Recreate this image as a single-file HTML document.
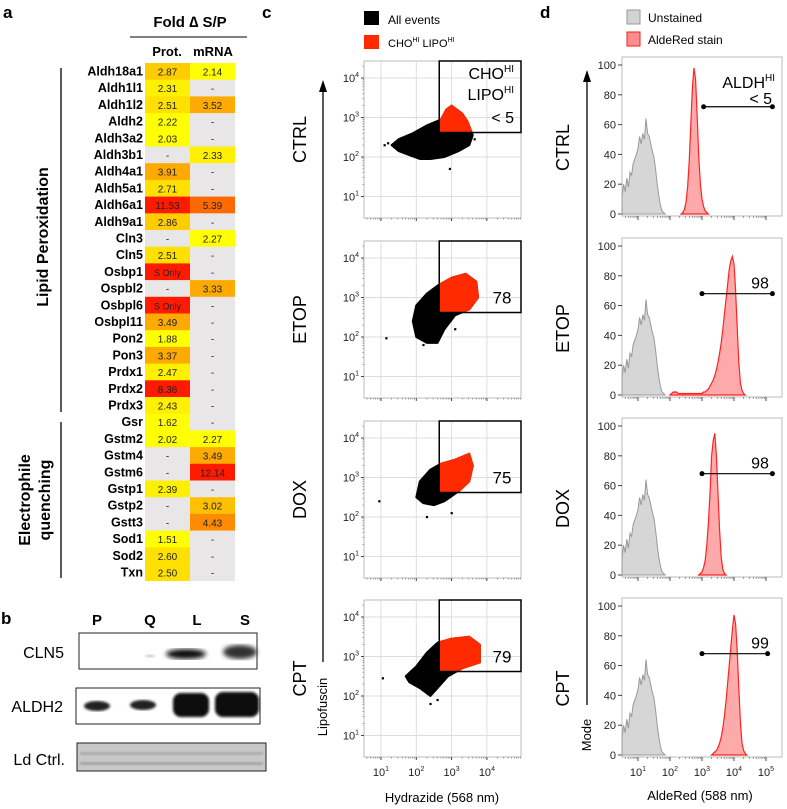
<!DOCTYPE html>
<html><head><meta charset="utf-8"><style>
body{margin:0;background:#fff}
svg{display:block;font-family:"Liberation Sans",Arial,sans-serif}
</style></head><body>
<svg id="fig" width="787" height="809" viewBox="0 0 787 809" xmlns="http://www.w3.org/2000/svg">
<defs>
<filter id="blur1"><feGaussianBlur stdDeviation="2.5"/></filter>
<filter id="blur2"><feGaussianBlur stdDeviation="1.2"/></filter>
</defs>
<text x="3" y="18" font-size="17" font-weight="bold">a</text>
<text x="1" y="624" font-size="17" font-weight="bold">b</text>
<text x="262" y="18" font-size="17" font-weight="bold">c</text>
<text x="540" y="18" font-size="17" font-weight="bold">d</text>

<g>
<text x="190" y="27" font-size="15" font-weight="bold" text-anchor="middle">Fold ∆ S/P</text>
<line x1="130" y1="37" x2="247" y2="37" stroke="#000" stroke-width="1"/>
<text x="167" y="56" font-size="13" font-weight="bold" text-anchor="middle">Prot.</text>
<text x="213" y="56" font-size="13" font-weight="bold" text-anchor="middle">mRNA</text>
</g>
<g id="table"></g>
<line x1="61" y1="68" x2="61" y2="412" stroke="#000" stroke-width="1.3"/>
<line x1="61" y1="422" x2="61" y2="578" stroke="#000" stroke-width="1.3"/>
<text transform="translate(48,237) rotate(-90)" font-size="16" font-weight="bold" text-anchor="middle">Lipid Peroxidation</text>
<text transform="translate(30,500) rotate(-90)" font-size="16" font-weight="bold" text-anchor="middle"><tspan x="0" dy="0">Electrophile</tspan><tspan x="0" dy="20">quenching</tspan></text>

<g>
<text x="97" y="625" font-size="15" font-weight="bold" text-anchor="middle">P</text>
<text x="150" y="625" font-size="15" font-weight="bold" text-anchor="middle">Q</text>
<text x="197" y="625" font-size="15" font-weight="bold" text-anchor="middle">L</text>
<text x="245" y="625" font-size="15" font-weight="bold" text-anchor="middle">S</text>
<text x="64" y="658" font-size="16" text-anchor="end">CLN5</text>
<text x="63" y="712" font-size="16" text-anchor="end">ALDH2</text>
<text x="65" y="765" font-size="16" text-anchor="end">Ld Ctrl.</text>
<rect x="79" y="633" width="178" height="36" fill="#fff" stroke="#222"/>
<ellipse cx="186" cy="654" rx="20" ry="5" fill="#111" filter="url(#blur1)"/>
<ellipse cx="240" cy="652" rx="17" ry="7" fill="#333" filter="url(#blur1)"/>
<ellipse cx="150" cy="656" rx="5" ry="1.5" fill="#ccc" filter="url(#blur2)"/>
<rect x="76" y="688" width="184" height="36" fill="#fff" stroke="#222"/>
<ellipse cx="97" cy="706" rx="13" ry="5" fill="#222" filter="url(#blur2)"/>
<ellipse cx="143" cy="705" rx="13" ry="5" fill="#222" filter="url(#blur2)"/>
<rect x="173" y="693" width="36" height="24" rx="8" fill="#080808" filter="url(#blur2)"/>
<rect x="215" y="692" width="44" height="25" rx="8" fill="#080808" filter="url(#blur2)"/>
<rect x="77" y="743" width="189" height="28" fill="#c8c8c8" stroke="#222"/>
<rect x="80" y="752" width="183" height="3" fill="#a8a8a8" filter="url(#blur2)"/>
<rect x="80" y="762" width="183" height="3" fill="#a0a0a0" filter="url(#blur2)"/>
</g>

<rect x="364" y="11" width="15" height="14" fill="#000"/>
<text x="388" y="24" font-size="12">All events</text>
<rect x="364" y="35" width="15" height="14" fill="#ff2a00"/>
<text x="388" y="47" font-size="11">CHO<tspan font-size="7" dy="-5">HI</tspan><tspan dy="5"> LIPO</tspan><tspan font-size="7" dy="-5">HI</tspan></text>
<line x1="323" y1="88" x2="323" y2="662" stroke="#000" stroke-width="1.3"/>
<polygon points="323,80 319,92 327,92" fill="#000"/>
<text transform="translate(327,707) rotate(-90)" font-size="13" text-anchor="middle">Lipofuscin</text>
<text x="442" y="802" font-size="13" text-anchor="middle">Hydrazide (568 nm)</text>
<g id="scatter"></g>

<rect x="627" y="10" width="13" height="14" fill="#d3d3d3" stroke="#999"/>
<text x="648" y="22" font-size="12">Unstained</text>
<rect x="627" y="32" width="13" height="14" fill="#ff8c8c" stroke="#e22"/>
<text x="648" y="44" font-size="12">AldeRed stain</text>
<line x1="587" y1="80" x2="587" y2="705" stroke="#000" stroke-width="1.3"/>
<polygon points="587,70 583,82 591,82" fill="#000"/>
<text transform="translate(591,735) rotate(-90)" font-size="13" text-anchor="middle">Mode</text>
<text x="700" y="800" font-size="13" text-anchor="middle">AldeRed (588 nm)</text>
<g id="hist"></g>
</svg>
<script>
const genes=["Aldh18a1","Aldh1l1","Aldh1l2","Aldh2","Aldh3a2","Aldh3b1","Aldh4a1","Aldh5a1","Aldh6a1","Aldh9a1","Cln3","Cln5","Osbp1","Ospbl2","Osbpl6","Osbpl11","Pon2","Pon3","Prdx1","Prdx2","Prdx3","Gsr","Gstm2","Gstm4","Gstm6","Gstp1","Gstp2","Gstt3","Sod1","Sod2","Txn"];
const protVals=["2.87","2.31","2.51","2.22","2.03","-","3.91","2.71","11.53","2.86","-","2.51","S Only","-","S Only","3.49","1.88","3.37","2.47","8.36","2.43","1.62","2.02","-","-","2.39","-","-","1.51","2.60","2.50"];
const mrnaVals=["2.14","-","3.52","-","-","2.33","-","-","5.39","-","2.27","-","-","3.33","-","-","-","-","-","-","-","-","2.27","3.49","12.14","-","3.02","4.43","-","-","-"];
const sampleNames=["CTRL","ETOP","DOX","CPT"];
const gatePct=["< 5","78","75","79"];
const ctrlBlobX=[1.3,1.5,1.9,2.3,2.7,2.85,3.0,3.3,3.45,3.6,3.5,3.2,2.8,2.4,2.1,1.8,1.5];
const ctrlBlobY=[2.3,2.45,2.6,2.8,2.95,3.2,3.3,3.1,2.9,2.55,2.3,2.15,2.0,1.95,1.95,2.05,2.15];
const etopBlobX=[2.0,1.9,2.0,2.3,2.6,3.0,3.4,3.7,3.75,3.5,3.1,2.8,2.6,2.3];
const etopBlobY=[2.0,2.4,2.8,3.1,3.3,3.5,3.6,3.4,3.0,2.7,2.55,2.2,1.85,1.85];
const doxBlobX=[2.0,2.1,2.4,2.7,3.1,3.5,3.6,3.5,3.2,2.8,2.5,2.2];
const doxBlobY=[2.5,2.9,3.2,3.35,3.45,3.6,3.3,2.9,2.65,2.4,2.3,2.35];
const cptBlobX=[1.7,2.0,2.3,2.6,3.0,3.5,3.8,3.8,3.3,2.9,2.6,2.4,2.1,1.8];
const cptBlobY=[2.5,2.75,3.1,3.35,3.45,3.5,3.3,2.85,2.7,2.5,2.2,2.0,2.2,2.35];
const outX=[[1.1,1.2,2.95,3.65],[1.15,2.2,3.1],[0.95,2.3,3.0],[1.05,2.4,2.6]];
const outY=[[2.3,2.35,1.7,2.45],[1.97,1.8,2.2],[2.4,2.0,2.1],[2.45,1.8,1.9]];
const unstained=[12,20,15,24,18,28,26,34,37,40,44,52,47,54,50,64,54,52,47,42,38,30,20,12,6,2,1,0];
const unstainedStart=0.5;
const redStart=[2.35,2.0,2.9,3.3];
const ctrlRed=[0,1,3,8,18,35,60,85,98,90,65,38,20,10,5,2,1,0];
const etopRed=[0,1,2,2,2,1,1,1,1,1,1,1,1,1,1,1,1,1,1,1,1,2,2,3,4,6,8,10,13,17,22,28,35,44,54,64,74,84,90,93,88,70,45,22,8,3,1,0];
const doxRed=[0,1,2,5,10,20,35,55,80,90,95,80,55,30,12,4,1,0];
const cptRed=[0,1,2,3,5,8,12,18,26,36,48,60,72,84,94,88,70,45,22,8,3,1,0];
const histGateLabel=["< 5","98","98","99"];
const histGateFrom=[3.05,3.0,3.0,3.0];
const histGateTo=[5.2,5.2,5.2,5.05];
const histGateLevel=[72,68,68,68];
const yTicks=[0,20,40,60,80,100];
const decades=[1,2,3,4];
const histDecades=[1,2,3,4,5];
</script>
<script>
const NS="http://www.w3.org/2000/svg";
function mk(tag,attrs,parent){const e=document.createElementNS(NS,tag);for(const k in attrs)e.setAttribute(k,attrs[k]);parent.appendChild(e);return e;}
function colorFor(v){
  if(v==="-")return "#e8e6e6";
  if(v==="S Only")return "#ff1a00";
  const n=parseFloat(v);
  if(n>=8)return "#ff1a00";if(n>=5)return "#ff6a00";if(n>=4)return "#ff8c00";
  if(n>=3.3)return "#ffaa00";if(n>=3.0)return "#ffc000";if(n>=2.8)return "#ffcc00";
  if(n>=2.5)return "#ffe000";if(n>=2.3)return "#fff000";return "#ffff00";}
const tbl=document.getElementById('table');
const rowH=16.7,top0=63;
genes.forEach((g,i)=>{
  const y=top0+i*rowH;
  const t=mk('text',{x:143,y:y+12.5,'font-size':12.5,'font-weight':'bold','text-anchor':'end'},tbl);t.textContent=g;
  
  
  [[protVals[i],145],[mrnaVals[i],190]].forEach(([v,x])=>{
    const r=mk('rect',{x:x,y:y,width:45,height:rowH+0.3,fill:colorFor(v)},tbl);
    
    
    const tx=mk('text',{x:x+22.5,y:y+12.5,'font-size':v==="S Only"?9:10,'text-anchor':'middle',fill:'#222'},tbl);tx.textContent=v;
    
    
  });
});
const sc=document.getElementById('scatter');
const t4=[78,258,438,617];
const xs=l=>381+(l-1)*35.3;
const ys=(l,i)=>t4[i]+(4-l)*39.5;
const blobsX=[ctrlBlobX,etopBlobX,doxBlobX,cptBlobX],blobsY=[ctrlBlobY,etopBlobY,doxBlobY,cptBlobY];
for(let i=0;i<4;i++){
  const g=mk('g',{},sc);
  
  
  const fy=t4[i]-17,fh=157,fx=364,fw=157;
  mk('rect',{x:fx,y:fy,width:fw,height:fh,fill:'#fff',stroke:'#bbb'},g);
  decades.forEach(d=>{
    mk('line',{x1:xs(d),x2:xs(d),y1:fy,y2:fy+fh,stroke:'#ddd'},g);
    mk('line',{x1:fx,x2:fx+fw,y1:ys(d,i),y2:ys(d,i),stroke:'#ddd'},g);
    mk('line',{x1:fx-3,x2:fx,y1:ys(d,i),y2:ys(d,i),stroke:'#444'},g);
    mk('line',{x1:xs(d),x2:xs(d),y1:fy+fh,y2:fy+fh+3,stroke:'#444'},g);
    for(let m=2;m<10;m++){const o=Math.log10(m);
      if(ys(d+o,i)>fy)mk('line',{x1:fx-1.5,x2:fx,y1:ys(d+o,i),y2:ys(d+o,i),stroke:'#666','stroke-width':0.6},g);
      if(xs(d+o)<fx+fw)mk('line',{x1:xs(d+o),x2:xs(d+o),y1:fy+fh,y2:fy+fh+1.5,stroke:'#666','stroke-width':0.6},g);
      const o0=d-1+o; if(d===1&&xs(o0)>fx)mk('line',{x1:xs(o0),x2:xs(o0),y1:fy+fh,y2:fy+fh+1.5,stroke:'#666','stroke-width':0.6},g);}
    const lb=mk('text',{x:fx-5,y:ys(d,i)+4,'font-size':11,'text-anchor':'end',fill:'#222'},g);
    lb.innerHTML='10<tspan font-size="7" dy="-5">'+d+'</tspan>';
    
    
  });
  if(i===3)decades.forEach(d=>{const lb=mk('text',{x:xs(d),y:776,'font-size':11,'text-anchor':'middle',fill:'#222'},g);
    lb.innerHTML='10<tspan font-size="7" dy="-5">'+d+'</tspan>';
    
    });
  const pts=blobsX[i].map((x,k)=>xs(x)+','+ys(blobsY[i][k],i)).join(' ');
  const gx=xs(2.65),gy=ys(2.62,i);
  const cp=mk('clipPath',{id:'gate'+i},g);mk('rect',{x:gx,y:fy,width:fx+fw-gx,height:gy-fy},cp);
  const bl=mk('polygon',{points:pts,fill:'#000',stroke:'#000','stroke-width':2,'stroke-linejoin':'round'},g);
  
  
  const rd=mk('polygon',{points:pts,fill:'#ff2a00',stroke:'#ff2a00','stroke-width':2,'clip-path':'url(#gate'+i+')'},g);
  
  
  outX[i].forEach((x,k)=>{const c=mk('rect',{x:xs(x)-1,y:ys(outY[i][k],i)-1,width:2.2,height:2.2,fill:'#000'},g);
    
    });
  const gate=mk('rect',{x:gx,y:fy,width:fx+fw-gx,height:gy-fy,fill:'none',stroke:'#000','stroke-width':1.5},g);
  
  
  if(i===0){
    const a=mk('text',{x:514,y:79,'font-size':16,'text-anchor':'end'},g);a.innerHTML='CHO<tspan font-size="10" dy="-7">HI</tspan>';
    const b=mk('text',{x:514,y:100,'font-size':16,'text-anchor':'end'},g);b.innerHTML='LIPO<tspan font-size="10" dy="-7">HI</tspan>';
    const c=mk('text',{x:514,y:123,'font-size':16,'text-anchor':'end'},g);c.textContent=gatePct[i];
    
    
  } else {
    const c=mk('text',{x:502,y:ys(3,i)+6,'font-size':17,'text-anchor':'middle'},g);c.textContent=gatePct[i];
    
    
  }
  const sl=mk('text',{transform:'translate('+306+','+(ys(3,i)+22)+') rotate(-90)','font-size':18,'text-anchor':'middle'},g);sl.textContent=sampleNames[i];
  
  
}
const hs=document.getElementById('hist');
const zero=[214,395,575,755];
const xh=l=>638+(l-1)*32;
const yh=(v,i)=>zero[i]-v*1.49;
const reds=[ctrlRed,etopRed,doxRed,cptRed];
function areaPath(start,vals,i){
  let d='M'+xh(start)+','+zero[i];
  vals.forEach((v,k)=>{d+=' L'+xh(start+k*0.05).toFixed(1)+','+yh(v,i).toFixed(1);});
  d+=' L'+xh(start+(vals.length-1)*0.05).toFixed(1)+','+zero[i]+' Z';return d;}
for(let i=0;i<4;i++){
  const g=mk('g',{},hs);
  
  
  const fx=622,fw=160,fy=yh(100,i)-8,fh=zero[i]+2-fy;
  mk('rect',{x:fx,y:fy,width:fw,height:fh,fill:'#fff',stroke:'#bbb'},g);
  yTicks.forEach(t=>{mk('line',{x1:fx-4,x2:fx,y1:yh(t,i),y2:yh(t,i),stroke:'#444'},g);
    const lb=mk('text',{x:fx-6,y:yh(t,i)+4,'font-size':11,'text-anchor':'end',fill:'#222'},g);lb.textContent=t;
    
    });
  histDecades.forEach(d=>{mk('line',{x1:xh(d),x2:xh(d),y1:zero[i]+2,y2:zero[i]+6,stroke:'#444'},g);
    for(let m=2;m<10;m++){const xx=xh(d-1+Math.log10(m));if(xx>fx)mk('line',{x1:xx,x2:xx,y1:zero[i]+2,y2:zero[i]+4,stroke:'#666','stroke-width':0.6},g);}
    if(i===3){const lb=mk('text',{x:xh(d),y:776,'font-size':11,'text-anchor':'middle',fill:'#222'},g);
      lb.innerHTML='10<tspan font-size="7" dy="-5">'+d+'</tspan>';
      
      }});
  const gp=mk('path',{d:areaPath(unstainedStart,unstained,i),fill:'#d6d6d6',stroke:'#999','stroke-width':1},g);
  
  
  const rp=mk('path',{d:areaPath(redStart[i],reds[i],i),fill:'#ffaaaa',stroke:'#f22','stroke-width':1.2},g);
  
  
  const gy=yh(histGateLevel[i],i),x1=xh(histGateFrom[i]),x2=Math.min(xh(histGateTo[i]),777);
  const gl=mk('line',{x1:x1,x2:x2,y1:gy,y2:gy,stroke:'#000','stroke-width':1.2},g);
  
  
  mk('circle',{cx:x1,cy:gy,r:2.5},g);mk('circle',{cx:x2,cy:gy,r:2.5},g);
  if(i===0){
    const a=mk('text',{x:775,y:88,'font-size':16,'text-anchor':'end'},g);a.innerHTML='ALDH<tspan font-size="10" dy="-7">HI</tspan>';
    const c=mk('text',{x:772,y:104,'font-size':16,'text-anchor':'end'},g);c.textContent=histGateLabel[i];
    
    
  } else {
    const c=mk('text',{x:760,y:gy-5,'font-size':16,'text-anchor':'middle'},g);c.textContent=histGateLabel[i];
    
    
  }
  const sl=mk('text',{transform:'translate(569,'+(yh(50,i)+8)+') rotate(-90)','font-size':18,'text-anchor':'middle'},g);sl.textContent=sampleNames[i];
  
  
}
</script>
</body></html>
